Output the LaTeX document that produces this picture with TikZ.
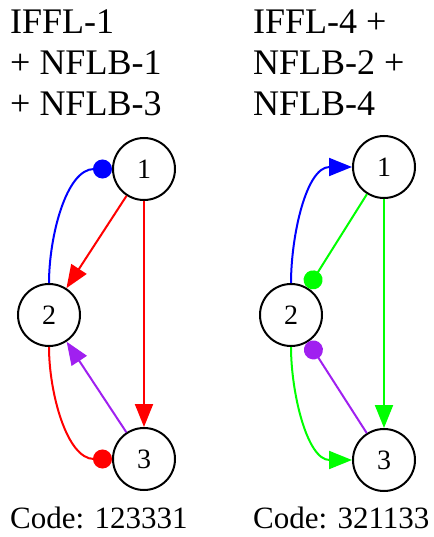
\documentclass[tikz,border=0pt]{standalone}
\usepackage{fontspec}
\setmainfont{Liberation Serif}
\usepackage{tikz}
\usetikzlibrary{positioning,arrows.meta}
\definecolor{grape}{RGB}{160,32,240}

\begin{document}
\begin{tikzpicture}[
      x=1pt, y=1pt,
      gene/.style={
        circle, draw=black, line width=2pt, fill=white,
        minimum size=62pt, inner sep=0pt, font=\fontsize{28}{28}\selectfont
      },
      heading/.style={anchor=base west, inner sep=0pt, font=\fontsize{36}{36}\selectfont},
      code/.style={anchor=base west, inner sep=0pt,
        font=\fontsize{31}{31}\selectfont},
      act/.style={-{Triangle[length=23pt,width=18pt]}, line width=2pt},
      inh/.style={-{Circle[length=19pt]}, line width=2pt},
      node distance=146pt and 95pt, on grid
      ]
      \useasboundingbox (0,0) rectangle (433,-537);

      % left motif
      \node[heading] (t1) at (10,-34) {IFFL-1};
      \node[heading] (t1b) at ([yshift=-41pt]t1.base west) {+ NFLB-1};
      \node[heading] (t1c) at ([yshift=-41pt]t1b.base west) {+ NFLB-3};
      \node[gene] (a1) at (144,-169) {1};
      \node[gene, below left = 146pt and 95pt of a1] (a2) {2};
      \node[gene, below = 290pt of a1] (a3) {3};
      \node[code] (k1) at (10,-528) {Code: 123331};

      % right motif
      \node[heading] (t2) at (253,-34) {IFFL-4 +};
      \node[heading] (t2b) at ([yshift=-41pt]t2.base west) {NFLB-2 +};
      \node[heading] (t2c) at ([yshift=-41pt]t2b.base west) {NFLB-4};
      \node[gene] (b1) at (384,-167) {1};
      \node[gene, below left = 148pt and 93pt of b1] (b2) {2};
      \node[gene, below = 293pt of b1] (b3) {3};
      \node[code] (k2) at (253,-528) {Code: 321133};

  % Connect the nodes
  \draw[inh, blue] (a2.north) to[out=90, in=180, looseness=0.9] (a1.west);
  \draw[act, red] (a1) -- (a2);
  \draw[act, red] (a1) -- (a3);
  \draw[act, grape] (a3) -- (a2);
  \draw[inh, red] (a2.south) to[out=-90, in=180, looseness=0.9] (a3.west);

  \draw[act, blue] (b2.north) to[out=90, in=180, looseness=0.9] (b1.west);
  \draw[inh, green] (b1) -- (b2);
  \draw[act, green] (b1) -- (b3);
  \draw[inh, grape] (b3) -- (b2);
  \draw[act, green] (b2.south) to[out=-90, in=180, looseness=0.9] (b3.west);

\end{tikzpicture}
\end{document}
